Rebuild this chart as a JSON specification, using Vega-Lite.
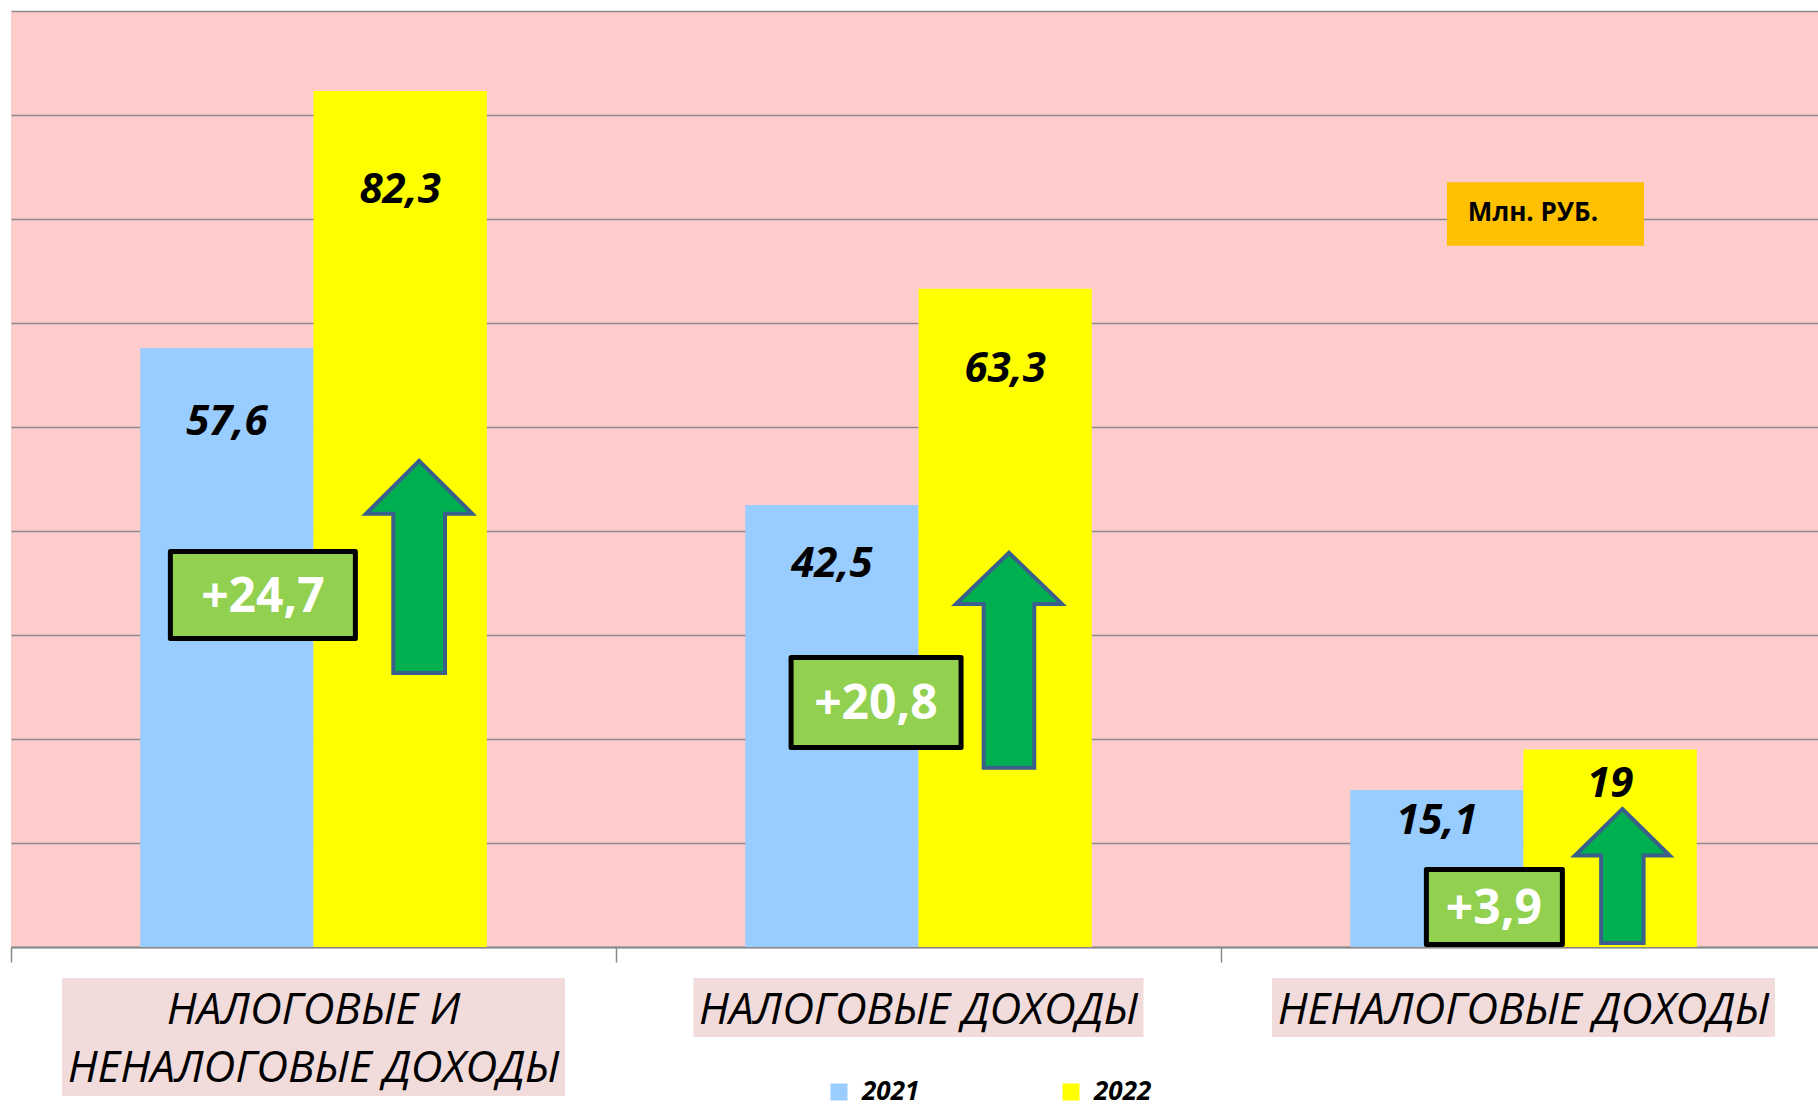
{
  "$schema": "https://vega.github.io/schema/vega-lite/v6.json",
  "width": 1807,
  "height": 936,
  "autosize": {"type": "none"},
  "padding": {"left": 11, "top": 11, "right": 0, "bottom": 160},
  "background": "white",
  "config": {
    "view": {"fill": "#FFCCCC", "stroke": null},
    "font": "Open Sans",
    "locale": {"number": {"decimal": ",", "thousands": " ", "grouping": [3], "currency": ["", ""]}}
  },
  "datasets": {
    "bars": [
      {"category": "НАЛОГОВЫЕ И\nНЕНАЛОГОВЫЕ ДОХОДЫ", "year": "2021", "value": 57.6},
      {"category": "НАЛОГОВЫЕ И\nНЕНАЛОГОВЫЕ ДОХОДЫ", "year": "2022", "value": 82.3},
      {"category": "НАЛОГОВЫЕ ДОХОДЫ", "year": "2021", "value": 42.5},
      {"category": "НАЛОГОВЫЕ ДОХОДЫ", "year": "2022", "value": 63.3},
      {"category": "НЕНАЛОГОВЫЕ ДОХОДЫ", "year": "2021", "value": 15.1},
      {"category": "НЕНАЛОГОВЫЕ ДОХОДЫ", "year": "2022", "value": 19}
    ],
    "changes": [
      {"category": "НАЛОГОВЫЕ И\nНЕНАЛОГОВЫЕ ДОХОДЫ", "increase": 24.7},
      {"category": "НАЛОГОВЫЕ ДОХОДЫ", "increase": 20.8},
      {"category": "НЕНАЛОГОВЫЕ ДОХОДЫ", "increase": 3.9}
    ],
    "unit": [{"category": "НЕНАЛОГОВЫЕ ДОХОДЫ", "label": "Млн. РУБ."}]
  },
  "layer": [
    {
      "layer": [
        {
          "data": {"name": "bars"},
          "mark": {"type": "bar"},
          "encoding": {
            "x": {
              "field": "category", "type": "nominal", "sort": null,
              "scale": {"domain": ["НАЛОГОВЫЕ И\nНЕНАЛОГОВЫЕ ДОХОДЫ", "НАЛОГОВЫЕ ДОХОДЫ", "НЕНАЛОГОВЫЕ ДОХОДЫ"], "paddingInner": 0, "paddingOuter": 0, "range": [0, 1815]},
              "axis": {"title": null, "labels": false, "grid": false, "domainColor": "#898989", "domainWidth": 2, "tickColor": "#898989", "tickWidth": 1.5, "tickSize": 15, "tickBand": "extent"}
            },
            "xOffset": {"field": "year", "type": "nominal", "sort": null, "scale": {"domain": ["2021", "2022"], "paddingOuter": 0.746, "paddingInner": 0}},
            "y": {
              "field": "value", "type": "quantitative",
              "scale": {"domain": [0, 90], "nice": false},
              "axis": {"title": null, "labels": false, "ticks": false, "domain": false, "grid": true, "gridColor": "#8C8C8C", "gridWidth": 1.5, "values": [0, 10, 20, 30, 40, 50, 60, 70, 80, 90]}
            },
            "color": {
              "field": "year", "type": "nominal",
              "scale": {"domain": ["2021", "2022"], "range": ["#99CCFF", "#FFFF00"]},
              "legend": {"orient": "none", "legendX": 815, "legendY": 1068, "direction": "horizontal", "title": null, "symbolType": "square", "symbolSize": 289, "symbolStrokeWidth": 0, "symbolOpacity": 1, "labelFont": "Open Sans", "labelFontSize": 26, "labelFontWeight": "bold", "labelFontStyle": "italic", "labelColor": "black", "labelOffset": 10, "columnPadding": 138, "padding": 0}
            }
          }
        },
        {
          "data": {"name": "bars"},
          "transform": [{"filter": {"field": "year", "equal": "2021"}}],
          "mark": {"type": "point", "filled": true, "fill": "#F2DCDB", "strokeWidth": 0, "size": 250000, "opacity": 1},
          "encoding": {
            "x": {"field": "category", "type": "nominal", "sort": null},
            "y": {"datum": -4.28, "type": "quantitative", "scale": {"domain": [0, 90], "nice": false}},
            "shape": {
              "field": "category", "type": "nominal", "legend": null,
              "scale": {
                "domain": ["НАЛОГОВЫЕ И\nНЕНАЛОГОВЫЕ ДОХОДЫ", "НАЛОГОВЫЕ ДОХОДЫ", "НЕНАЛОГОВЫЕ ДОХОДЫ"],
                "range": [
                  "M-1.006,-0.054L1.006,-0.054L1.006,0.418L-1.006,0.418Z",
                  "M-0.9,-0.054L0.9,-0.054L0.9,0.182L-0.9,0.182Z",
                  "M-1.006,-0.054L1.006,-0.054L1.006,0.182L-1.006,0.182Z"
                ]
              }
            }
          }
        },
        {
          "data": {"name": "bars"},
          "transform": [{"filter": {"field": "year", "equal": "2021"}}],
          "mark": {"type": "text", "font": "Open Sans", "fontSize": 44, "fontStyle": "italic", "color": "black", "baseline": "top", "align": "center", "lineBreak": "\n", "lineHeight": 58},
          "encoding": {
            "x": {"field": "category", "type": "nominal", "sort": null},
            "y": {"datum": -4.05, "type": "quantitative", "scale": {"domain": [0, 90], "nice": false}},
            "text": {"field": "category", "type": "nominal"}
          }
        },
        {
          "data": {"name": "changes"},
          "transform": [{"filter": {"field": "category", "equal": "НАЛОГОВЫЕ И\nНЕНАЛОГОВЫЕ ДОХОДЫ"}}],
          "encoding": {
            "x": {"field": "category", "type": "nominal", "sort": null}
          },
          "layer": [
            {
              "mark": {"type": "point", "filled": true, "fill": "#92D050", "stroke": "black", "strokeWidth": 5, "strokeJoin": "round", "size": 40000, "opacity": 1, "shape": "M-0.565,-0.435L1.285,-0.435L1.285,0.435L-0.565,0.435Z"},
              "encoding": {
                "xOffset": {"datum": "2021"},
                "y": {"datum": 33.85, "type": "quantitative", "scale": {"domain": [0, 90], "nice": false}}
              }
            },
            {
              "mark": {"type": "text", "font": "Open Sans", "fontSize": 48, "fontWeight": "bold", "color": "white", "align": "center", "baseline": "middle", "dx": 36, "dy": 3},
              "encoding": {
                "xOffset": {"datum": "2021"},
                "y": {"datum": 33.85, "type": "quantitative", "scale": {"domain": [0, 90], "nice": false}},
                "text": {"field": "increase", "type": "quantitative", "format": "+.3~r"}
              }
            },
            {
              "mark": {"type": "point", "filled": true, "fill": "#00B050", "stroke": "#3A5F8B", "strokeWidth": 4, "strokeJoin": "miter", "size": 48400, "opacity": 1, "shape": "M0.173,-0.964L0.655,-0.485L0.408,-0.485L0.408,0.964L-0.062,0.964L-0.062,-0.485L-0.309,-0.485Z"},
              "encoding": {
                "xOffset": {"datum": "2022"},
                "y": {"datum": 36.54, "type": "quantitative", "scale": {"domain": [0, 90], "nice": false}}
              }
            }
          ]
        },
        {
          "data": {"name": "changes"},
          "transform": [{"filter": {"field": "category", "equal": "НАЛОГОВЫЕ ДОХОДЫ"}}],
          "encoding": {
            "x": {"field": "category", "type": "nominal", "sort": null}
          },
          "layer": [
            {
              "mark": {"type": "point", "filled": true, "fill": "#92D050", "stroke": "black", "strokeWidth": 5, "strokeJoin": "round", "size": 40000, "opacity": 1, "shape": "M-0.408,-0.45L1.292,-0.45L1.292,0.45L-0.408,0.45Z"},
              "encoding": {
                "xOffset": {"datum": "2021"},
                "y": {"datum": 23.51, "type": "quantitative", "scale": {"domain": [0, 90], "nice": false}}
              }
            },
            {
              "mark": {"type": "text", "font": "Open Sans", "fontSize": 48, "fontWeight": "bold", "color": "white", "align": "center", "baseline": "middle", "dx": 44, "dy": 3},
              "encoding": {
                "xOffset": {"datum": "2021"},
                "y": {"datum": 23.51, "type": "quantitative", "scale": {"domain": [0, 90], "nice": false}},
                "text": {"field": "increase", "type": "quantitative", "format": "+.3~r"}
              }
            },
            {
              "mark": {"type": "point", "filled": true, "fill": "#00B050", "stroke": "#3A5F8B", "strokeWidth": 4, "strokeJoin": "miter", "size": 48400, "opacity": 1, "shape": "M0.035,-0.977L0.517,-0.512L0.265,-0.512L0.265,0.977L-0.195,0.977L-0.195,-0.512L-0.447,-0.512Z"},
              "encoding": {
                "xOffset": {"datum": "2022"},
                "y": {"datum": 27.57, "type": "quantitative", "scale": {"domain": [0, 90], "nice": false}}
              }
            }
          ]
        },
        {
          "data": {"name": "changes"},
          "transform": [{"filter": {"field": "category", "equal": "НЕНАЛОГОВЫЕ ДОХОДЫ"}}],
          "encoding": {
            "x": {"field": "category", "type": "nominal", "sort": null}
          },
          "layer": [
            {
              "mark": {"type": "point", "filled": true, "fill": "#92D050", "stroke": "black", "strokeWidth": 5, "strokeJoin": "round", "size": 40000, "opacity": 1, "shape": "M-0.105,-0.375L1.255,-0.375L1.255,0.375L-0.105,0.375Z"},
              "encoding": {
                "xOffset": {"datum": "2021"},
                "y": {"datum": 3.85, "type": "quantitative", "scale": {"domain": [0, 90], "nice": false}}
              }
            },
            {
              "mark": {"type": "text", "font": "Open Sans", "fontSize": 48, "fontWeight": "bold", "color": "white", "align": "center", "baseline": "middle", "dx": 57, "dy": 3},
              "encoding": {
                "xOffset": {"datum": "2021"},
                "y": {"datum": 3.85, "type": "quantitative", "scale": {"domain": [0, 90], "nice": false}},
                "text": {"field": "increase", "type": "quantitative", "format": "+.3~r"}
              }
            },
            {
              "mark": {"type": "point", "filled": true, "fill": "#00B050", "stroke": "#3A5F8B", "strokeWidth": 4, "strokeJoin": "miter", "size": 48400, "opacity": 1, "shape": "M0.111,-0.609L0.541,-0.185L0.304,-0.185L0.304,0.609L-0.082,0.609L-0.082,-0.185L-0.319,-0.185Z"},
              "encoding": {
                "xOffset": {"datum": "2022"},
                "y": {"datum": 6.83, "type": "quantitative", "scale": {"domain": [0, 90], "nice": false}}
              }
            }
          ]
        },
        {
          "data": {"name": "unit"},
          "encoding": {
            "x": {"field": "category", "type": "nominal", "sort": null},
            "xOffset": {"datum": "2021"},
            "y": {"datum": 70.48, "type": "quantitative", "scale": {"domain": [0, 90], "nice": false}}
          },
          "layer": [
            {
              "mark": {"type": "point", "filled": true, "fill": "#FFC000", "strokeWidth": 0, "size": 38809, "opacity": 1, "shape": "M0.102,-0.323L2.102,-0.323L2.102,0.323L0.102,0.323Z"}
            },
            {
              "mark": {"type": "text", "font": "Open Sans", "fontSize": 26, "fontWeight": "bold", "color": "black", "align": "left", "baseline": "middle", "dx": 31, "dy": -1},
              "encoding": {"text": {"field": "label", "type": "nominal"}}
            }
          ]
        }
      ]
    },
    {
      "data": {"name": "bars"},
      "mark": {"type": "text", "font": "Open Sans", "fontSize": 42, "fontWeight": "bold", "fontStyle": "italic", "color": "black", "align": "center", "baseline": "middle"},
      "encoding": {
        "x": {"field": "category", "type": "nominal", "sort": null},
        "xOffset": {"field": "year", "type": "nominal", "sort": null},
        "y": {"field": "value", "type": "quantitative", "scale": {"domain": [1.68, 101.4], "nice": false, "zero": false}, "axis": null},
        "text": {"field": "value", "type": "quantitative", "format": ".3~r"}
      }
    }
  ],
  "resolve": {"scale": {"y": "independent"}}
}
